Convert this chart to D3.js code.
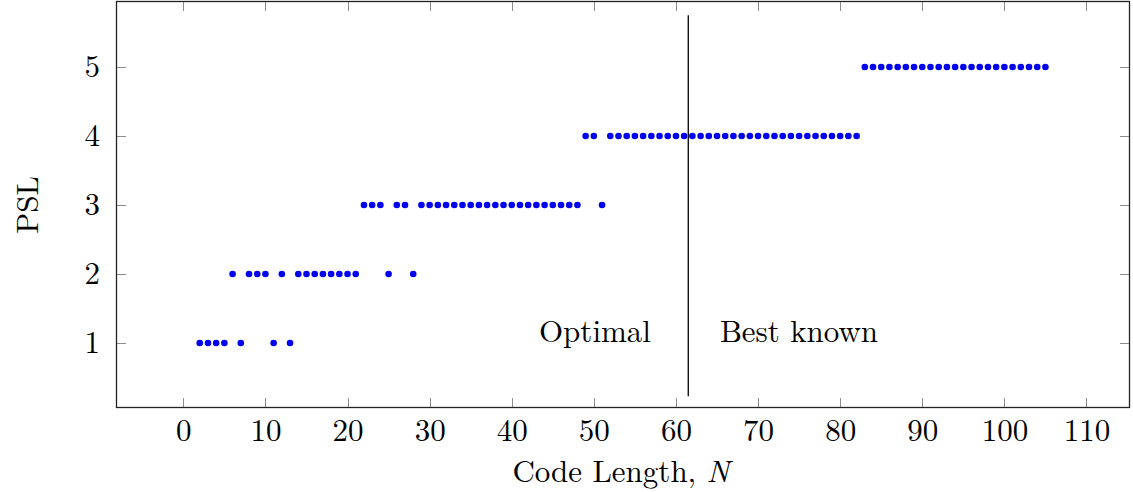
<!DOCTYPE html>
<html><head><meta charset="utf-8">
<script src="https://cdn.jsdelivr.net/npm/d3@7"></script>
<style>body{margin:0;background:#fff}svg{display:block}</style>
</head><body><svg id="c" width="1133" height="492"></svg>
<script>
// Code lengths N grouped by their peak sidelobe level (PSL)
const psl1N = [2,3,4,5,7,11,13];
const psl2N = [6,8,9,10,12,14,15,16,17,18,19,20,21,25,28];
const psl3N = [22,23,24,26,27,29,30,31,32,33,34,35,36,37,38,39,40,41,42,43,44,45,46,47,48,51];
const psl4N = [49,50,52,53,54,55,56,57,58,59,60,61,62,63,64,65,66,67,68,69,70,71,72,73,74,75,76,77,78,79,80,81,82];
const psl5N = [83,84,85,86,87,88,89,90,91,92,93,94,95,96,97,98,99,100,101,102,103,104,105];
const pslLevels = [1,2,3,4,5];
const xTicks = [0,10,20,30,40,50,60,70,80,90,100,110];
const yTicks = [1,2,3,4,5];
const dividerN = 61.5;
const dividerY = [0.23, 5.75];
const leftLabel = "Optimal", rightLabel = "Best known";
const xLabel = "Code Length, ", xLabelVar = "N", yLabel = "PSL";

const FONT = '"Latin Modern Roman","CMU Serif","Liberation Serif",serif';
const FS = "31px";

const groups = [psl1N, psl2N, psl3N, psl4N, psl5N];
const points = [];
groups.forEach((g,i)=>g.forEach(n=>points.push({n, psl:pslLevels[i]})));

const L=116, R=1130, T=1, B=408;
const svg = d3.select("#c");
const x = d3.scaleLinear().domain([-8.2,115.3]).range([L,R]);
const y = d3.scaleLinear().domain([0.058,5.957]).range([B,T]);

// ticks (inward, both sides)
const tk = svg.append("g").attr("stroke","#8c8c8c").attr("stroke-width",1);
xTicks.forEach(v=>{
  const px=Math.round(x(v))+0.5;
  tk.append("line").attr("x1",px).attr("x2",px).attr("y1",B).attr("y2",B-10);
  tk.append("line").attr("x1",px).attr("x2",px).attr("y1",T).attr("y2",T+10);
});
yTicks.forEach(v=>{
  const py=Math.round(y(v))+0.5;
  tk.append("line").attr("y1",py).attr("y2",py).attr("x1",L).attr("x2",L+10);
  tk.append("line").attr("y1",py).attr("y2",py).attr("x1",R).attr("x2",R-10);
});

// axis tick labels via d3 axes (no domain/tick lines)
const xa = svg.append("g").attr("transform",`translate(0,${B})`)
  .call(d3.axisBottom(x).tickValues(xTicks).tickFormat(d3.format("d")).tickSize(0).tickPadding(14));
xa.select(".domain").remove();
xa.selectAll("text").style("font-family",FONT).style("font-size",FS).attr("fill","#000").attr("dy","0.71em").attr("y",11);
const ya = svg.append("g").attr("transform",`translate(${L},0)`)
  .call(d3.axisLeft(y).tickValues(yTicks).tickFormat(d3.format("d")).tickSize(0).tickPadding(16));
ya.select(".domain").remove();
ya.selectAll("text").style("font-family",FONT).style("font-size",FS).attr("fill","#000");

// divider
svg.append("line").attr("x1",x(dividerN)).attr("x2",x(dividerN))
  .attr("y1",y(dividerY[0])).attr("y2",y(dividerY[1])).attr("stroke","#000").attr("stroke-width",1.3);

// points
svg.append("g").selectAll("circle").data(points).join("circle")
  .attr("cx",d=>x(d.n)).attr("cy",d=>y(d.psl)).attr("r",3.3).attr("fill","#0000f0");

// annotations
svg.append("text").attr("x",595).attr("y",342).attr("text-anchor","middle").style("font-family",FONT).style("font-size",FS).text(leftLabel);
svg.append("text").attr("x",799).attr("y",342).attr("text-anchor","middle").style("font-family",FONT).style("font-size",FS).text(rightLabel);

// frame
svg.append("rect").attr("x",L+0.5).attr("y",T+0.5).attr("width",R-L-1).attr("height",B-T-1)
  .attr("fill","none").attr("stroke","#222").attr("stroke-width",1.3);

// axis titles
const xt = svg.append("text").attr("x",621).attr("y",482).attr("text-anchor","middle").style("font-family",FONT).style("font-size",FS);
xt.append("tspan").text(xLabel);
xt.append("tspan").style("font-style","italic").text(xLabelVar);
svg.append("text").attr("transform",`translate(38,${205}) rotate(-90)`).attr("text-anchor","middle").style("font-family",FONT).style("font-size",FS).text(yLabel);
</script></body></html>
